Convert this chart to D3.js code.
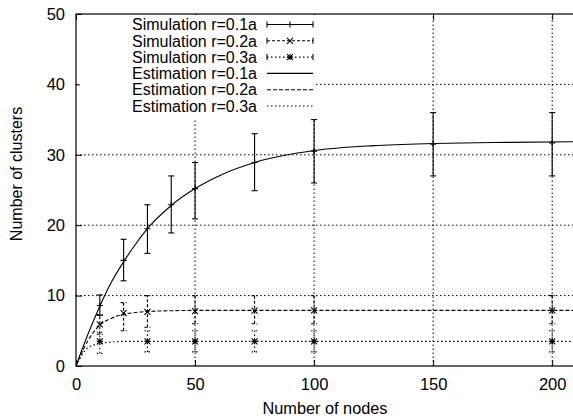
<!DOCTYPE html>
<html><head><meta charset="utf-8">
<script src="https://cdn.jsdelivr.net/npm/d3@7"></script>
<style>
body{margin:0;background:#fff;}
svg{display:block;font-family:"Liberation Sans",Arial,sans-serif;}
</style></head>
<body><svg id="c" width="573" height="419"></svg>
<script>
// ---- data ----
const xTicks = [0, 50, 100, 150, 200];
const yTicks = [0, 10, 20, 30, 40, 50];

const sim1X  = [10, 20, 30, 40, 50, 75, 100, 150, 200];
const sim1Y  = [8.6, 15.0, 19.5, 22.9, 25.2, 28.9, 30.5, 31.5, 31.7];
const sim1Lo = [7.2, 12.1, 16.0, 18.9, 20.9, 24.9, 26.0, 27.0, 27.0];
const sim1Hi = [10.1, 18.0, 22.9, 27.0, 28.9, 33.0, 35.0, 36.0, 36.0];

const sim2X  = [10, 20, 30, 50, 75, 100, 200];
const sim2Y  = [5.9, 7.5, 7.7, 7.8, 7.85, 7.9, 7.9];
const sim2Lo = [4.5, 5.0, 5.5, 6.0, 6.0, 6.0, 6.0];
const sim2Hi = [7.3, 9.0, 10.0, 10.0, 10.0, 10.0, 10.0];

const sim3X  = [10, 30, 50, 75, 100, 200];
const sim3Y  = [3.5, 3.5, 3.5, 3.5, 3.5, 3.5];
const sim3Lo = [1.8, 2.0, 2.0, 2.0, 2.0, 2.0];
const sim3Hi = [4.8, 5.0, 5.0, 5.0, 5.0, 5.0];

const est1X = [0, 5, 10, 15, 20, 25, 30, 40, 50, 60, 75, 100, 125, 150, 175, 210];
const est1Y = [0, 4.5, 8.5, 12.0, 14.8, 17.3, 19.5, 22.8, 25.2, 27.0, 28.9, 30.6, 31.3, 31.6, 31.75, 31.85];
const est2X = [0, 5, 10, 15, 20, 25, 30, 40, 50, 60, 80, 210];
const est2Y = [0, 3.6, 5.8, 6.8, 7.35, 7.6, 7.75, 7.85, 7.9, 7.9, 7.9, 7.9];
const est3X = [0, 5, 10, 15, 20, 30, 210];
const est3Y = [0, 2.6, 3.2, 3.4, 3.5, 3.5, 3.5];

const legendLabels = ["Simulation r=0.1a","Simulation r=0.2a","Simulation r=0.3a",
                      "Estimation r=0.1a","Estimation r=0.2a","Estimation r=0.3a"];

// ---- layout ----
const L = 76, R = 576, T = 14, B = 366;
const svg = d3.select("#c");
const x = d3.scaleLinear().domain([0, 210]).range([L, R]);
const y = d3.scaleLinear().domain([0, 50]).range([B, T]);

const DOT = "1.5,2.5", DASH = "4,2";

// grid
const g = svg.append("g");
g.selectAll(".gx").data(xTicks.filter(v => v > 0)).join("line")
  .attr("x1", d => x(d)).attr("x2", d => x(d)).attr("y1", B).attr("y2", T)
  .attr("stroke", "#000").attr("stroke-width", 1).attr("stroke-dasharray", DOT);
g.selectAll(".gy").data(yTicks.filter(v => v > 0 && v < 50)).join("line")
  .attr("x1", L).attr("x2", R).attr("y1", d => y(d)).attr("y2", d => y(d))
  .attr("stroke", "#000").attr("stroke-width", 1).attr("stroke-dasharray", DOT);

// axes (ticks inward)
const ax = svg.append("g").attr("transform", `translate(0,${B})`)
  .call(d3.axisBottom(x).tickValues(xTicks).tickSize(-6).tickPadding(12).tickFormat(d3.format("d")));
const axTop = svg.append("g").attr("transform", `translate(0,${T})`)
  .call(d3.axisTop(x).tickValues(xTicks).tickSize(-6).tickFormat(""));
const ay = svg.append("g").attr("transform", `translate(${L},0)`)
  .call(d3.axisLeft(y).tickValues(yTicks).tickSize(-6).tickPadding(11).tickFormat(d3.format("d")));
[ax, axTop, ay].forEach(a => {
  a.select(".domain").remove();
  a.selectAll("line").attr("stroke", "#000");
  a.selectAll("text").attr("font-size", 16.5).attr("fill", "#000")
    .attr("font-family", "Liberation Sans, Arial, sans-serif");
});

// legend background (covers grid)
svg.append("rect").attr("x", 80).attr("y", T + 1).attr("width", 236).attr("height", 104).attr("fill", "#fff");

// border
svg.append("rect").attr("x", L).attr("y", T).attr("width", R - L).attr("height", B - T)
  .attr("fill", "none").attr("stroke", "#000").attr("stroke-width", 1.2);

// curves
const line = d3.line().x(d => x(d[0])).y(d => y(d[1])).curve(d3.curveMonotoneX);
svg.append("clipPath").attr("id", "pc").append("rect")
  .attr("x", L).attr("y", T).attr("width", R - L).attr("height", B - T);
const plot = svg.append("g").attr("clip-path", "url(#pc)");
[[est1X, est1Y, null], [est2X, est2Y, DASH], [est3X, est3Y, DOT]].forEach(([xs, ys, da]) => {
  plot.append("path").datum(xs.map((v, i) => [v, ys[i]])).attr("d", line)
    .attr("fill", "none").attr("stroke", "#000").attr("stroke-width", 1.1)
    .attr("stroke-dasharray", da);
});

// markers
function marker(sel, cx, cy, type) {
  const s = 3;
  const p = d3.path();
  if (type === "plus" || type === "star") {
    p.moveTo(cx - s, cy); p.lineTo(cx + s, cy);
    p.moveTo(cx, cy - s); p.lineTo(cx, cy + s);
  }
  if (type === "cross" || type === "star") {
    p.moveTo(cx - s, cy - s); p.lineTo(cx + s, cy + s);
    p.moveTo(cx - s, cy + s); p.lineTo(cx + s, cy - s);
  }
  sel.append("path").attr("d", p.toString()).attr("stroke", "#000").attr("stroke-width", 1.1).attr("fill", "none");
}

const sims = [
  [sim1X, sim1Y, sim1Lo, sim1Hi, null, "plus"],
  [sim2X, sim2Y, sim2Lo, sim2Hi, "3,2", "cross"],
  [sim3X, sim3Y, sim3Lo, sim3Hi, DOT, "star"]
];
sims.forEach(([xs, ys, lo, hi, da, mk]) => {
  xs.forEach((v, i) => {
    const cx = x(v);
    const eg = plot.append("g").attr("stroke", "#000").attr("stroke-width", 1.1)
      .attr("stroke-dasharray", da);
    eg.append("line").attr("x1", cx).attr("x2", cx).attr("y1", y(lo[i])).attr("y2", y(hi[i]));
    eg.append("line").attr("x1", cx - 3).attr("x2", cx + 3).attr("y1", y(lo[i])).attr("y2", y(lo[i]));
    eg.append("line").attr("x1", cx - 3).attr("x2", cx + 3).attr("y1", y(hi[i])).attr("y2", y(hi[i]));
    marker(plot, cx, y(ys[i]), mk);
  });
});

// legend
const lg = svg.append("g");
const styles = [[null, "plus", true], ["3,2", "cross", true], [DOT, "star", true],
                [null, null, false], [DASH, null, false], [DOT, null, false]];
legendLabels.forEach((t, i) => {
  const yy = 24.5 + i * 16.3;
  lg.append("text").attr("x", 257).attr("y", yy).attr("dy", "0.36em")
    .attr("text-anchor", "end").attr("font-size", 16).text(t);
  const [da, mk, caps] = styles[i];
  const x1 = 267, x2 = 313;
  lg.append("line").attr("x1", x1).attr("x2", x2).attr("y1", yy).attr("y2", yy)
    .attr("stroke", "#000").attr("stroke-width", 1.1).attr("stroke-dasharray", da);
  if (caps) {
    [x1, x2].forEach(xx => lg.append("line").attr("x1", xx).attr("x2", xx)
      .attr("y1", yy - 3).attr("y2", yy + 3).attr("stroke", "#000").attr("stroke-width", 1.1));
    marker(lg, (x1 + x2) / 2, yy, mk);
  }
});

// axis titles
svg.append("text").attr("x", 325).attr("y", 414).attr("text-anchor", "middle")
  .attr("font-size", 16.3).text("Number of nodes");
svg.append("text").attr("transform", "translate(22,174) rotate(-90)").attr("text-anchor", "middle")
  .attr("font-size", 16).text("Number of clusters");
</script></body></html>
